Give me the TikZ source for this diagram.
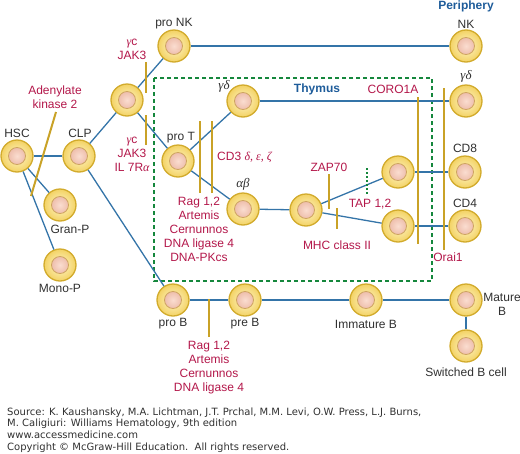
\documentclass[tikz,border=0pt]{standalone}
\usepackage{fontspec}
\setmainfont{Liberation Sans}
\newfontfamily\footfont{DejaVu Sans}
\newfontfamily\grkfont{Liberation Serif}
\newcommand{\grkit}[1]{{\grkfont\itshape #1}}

\definecolor{edgeblue}{HTML}{3474A8}
\definecolor{blockgold}{HTML}{C9A227}
\definecolor{genered}{HTML}{B3174A}
\definecolor{boxgreen}{HTML}{15873C}
\definecolor{titleblue}{HTML}{1E5C9A}
\definecolor{labelgray}{HTML}{303030}
\definecolor{cellrim}{HTML}{D2AB2C}
\definecolor{cellmid}{HTML}{FFF7CC}
\definecolor{cellout}{HTML}{F3D264}
\definecolor{nucrim}{HTML}{CFA560}
\definecolor{nucin}{HTML}{FADDD0}
\definecolor{nucout}{HTML}{E3A38D}

\tikzset{
  cell/.style={circle, minimum size=32pt, inner sep=0pt, draw=cellrim, line width=1.3pt,
    inner color=cellmid, outer color=cellout,
    path picture={\shadedraw[draw=nucrim, line width=0.8pt, inner color=nucin, outer color=nucout]
      (path picture bounding box.center) circle (8.5pt);}},
  lbl/.style={text=labelgray, font=\fontsize{12}{14}\selectfont, inner sep=0pt, align=center},
  gene/.style={text=genered, font=\fontsize{12}{14}\selectfont, inner sep=0pt, align=center},
  region/.style={text=titleblue, font=\fontsize{12}{14}\selectfont\bfseries, inner sep=0pt},
  foot/.style={text=labelgray, font=\footfont\fontsize{10}{11.7}\selectfont, inner sep=0pt, anchor=base west},
  link/.style={draw=edgeblue, line width=1.3pt},
  block/.style={draw=blockgold, line width=2pt},
}

\begin{document}
\begin{tikzpicture}[x=1pt, y=-1pt]
  \useasboundingbox (0,0) rectangle (520,453);

  % thymus
  \draw[boxgreen, line width=2.2pt, dash pattern=on 4pt off 3pt] (154,78) rectangle (432,281);
  \node[region] (thymus) at (317,89) {Thymus};
  \node[region] (periphery) at (466,6) {Periphery};

  % cells
  \node[cell] (hsc) at (17,156) {};
  \node[cell] (clp) at (79,156) {};
  \node[cell] (granp) at (60,205) {};
  \node[cell] (monop) at (60,265) {};
  \node[cell] (ilp) at (127,100) {};
  \node[cell] (pronk) at (174,46) {};
  \node[cell] (nk) at (466,46) {};
  \node[cell] (prot) at (178,161) {};
  \node[cell] (gdt) at (243,101) {};
  \node[cell] (gdp) at (466,101) {};
  \node[cell] (abt) at (243,209) {};
  \node[cell] (dp) at (306,210) {};
  \node[cell] (sp8) at (398,172) {};
  \node[cell] (sp4) at (398,226) {};
  \node[cell] (cd8) at (465,172) {};
  \node[cell] (cd4) at (465,226) {};
  \node[cell] (prob) at (173,300) {};
  \node[cell] (preb) at (245,300) {};
  \node[cell] (immb) at (366,300) {};
  \node[cell] (matb) at (466,300) {};
  \node[cell] (swb) at (466,346) {};

  % lineage
  \draw[link] (hsc) -- (clp);
  \draw[link] (hsc) -- (granp);
  \draw[link] (hsc) -- (monop);
  \draw[link] (clp) -- (ilp);
  \draw[link] (ilp) -- (pronk);
  \draw[link] (pronk) -- (nk);
  \draw[link] (ilp) -- (prot);
  \draw[link] (prot) -- (gdt);
  \draw[link] (gdt) -- (gdp);
  \draw[link] (prot) -- (abt);
  \draw[link] (abt) -- (dp);
  \draw[link] (dp) -- (sp8);
  \draw[link] (dp) -- (sp4);
  \draw[link] (sp8) -- (cd8);
  \draw[link] (sp4) -- (cd4);
  \draw[link] (clp) -- (prob);
  \draw[link] (prob) -- (preb);
  \draw[link] (preb) -- (immb);
  \draw[link] (immb) -- (matb);
  \draw[link] (matb) -- (swb);

  % cell names
  \node[lbl] (lhsc) at (17,133) {HSC};
  \node[lbl] (lclp) at (80,133) {CLP};
  \node[lbl] (lgranp) at (70,229) {Gran-P};
  \node[lbl] (lmonop) at (60,288) {Mono-P};
  \node[lbl] (lpronk) at (174,24) {pro NK};
  \node[lbl] (lnk) at (466,24) {NK};
  \node[lbl] (lprot) at (181,138) {pro T};
  \node[lbl, font=\fontsize{13}{14}\selectfont] (lgdt) at (224,86) {\grkit{γδ}};
  \node[lbl, font=\fontsize{13}{14}\selectfont] (lgdp) at (466,76) {\grkit{γδ}};
  \node[lbl, font=\fontsize{13}{14}\selectfont] (labt) at (243,184) {\grkit{αβ}};
  \node[lbl] (lcd8) at (465,148) {CD8};
  \node[lbl] (lcd4) at (465,203) {CD4};
  \node[lbl] (lprob) at (173,324) {pro B};
  \node[lbl] (lpreb) at (245,324) {pre B};
  \node[lbl] (limmb) at (366,324) {Immature B};
  \node[lbl] (lmatb) at (502,304) {Mature\\B};
  \node[lbl] (lswb) at (466,372) {Switched B cell};

  % blocks
  \draw[block] (56,112) -- (31,196);
  \draw[block] (146,62) -- (146,93);
  \draw[block] (146,115) -- (146,145);
  \draw[block] (200,121) -- (200,193);
  \draw[block] (212,121) -- (212,193);
  \draw[block] (329,174) -- (329,209);
  \draw[block] (337,208) -- (337,229);
  \draw[block] (418,97) -- (418,244);
  \draw[block] (444,88) -- (444,250);
  \draw[block] (209,299) -- (209,337);
  \draw[boxgreen, line width=1.6pt, dash pattern=on 2pt off 2pt] (367,168) -- (367,194);

  % genes
  \node[gene] (ak2) at (55,97) {Adenylate\\kinase 2};
  \node[gene] (jak3a) at (132,49) {\grkit{γ}c\\JAK3};
  \node[gene] (jak3b) at (132,154) {\grkit{γ}c\\JAK3\\IL 7R\grkit{α}};
  \node[gene, anchor=west] (cd3) at (217,157) {CD3 \grkit{δ, ε, ζ}};
  \node[gene] (ragt) at (199,229) {Rag 1,2\\Artemis\\Cernunnos\\DNA ligase 4\\DNA-PKcs};
  \node[gene] (zap) at (329,167) {ZAP70};
  \node[gene] (tap) at (370,204) {TAP 1,2};
  \node[gene] (mhc) at (337,245) {MHC class II};
  \node[gene] (coro) at (393,89) {CORO1A};
  \node[gene] (orai) at (448,257) {Orai1};
  \node[gene] (ragb) at (209,368) {Rag 1,2\\Artemis\\Cernunnos\\DNA ligase 4};

  % source
  \node[foot] (src1) at (7,415) {Source: K. Kaushansky, M.A. Lichtman, J.T. Prchal, M.M. Levi, O.W. Press, L.J. Burns,};
  \node[foot] (src2) at (7,426.7) {M. Caligiuri: Williams Hematology, 9th edition};
  \node[foot] (src3) at (7,438.3) {www.accessmedicine.com};
  \node[foot] (src4) at (7,450) {Copyright \textcopyright{} McGraw-Hill Education.\ \ All rights reserved.};
\end{tikzpicture}
\end{document}
